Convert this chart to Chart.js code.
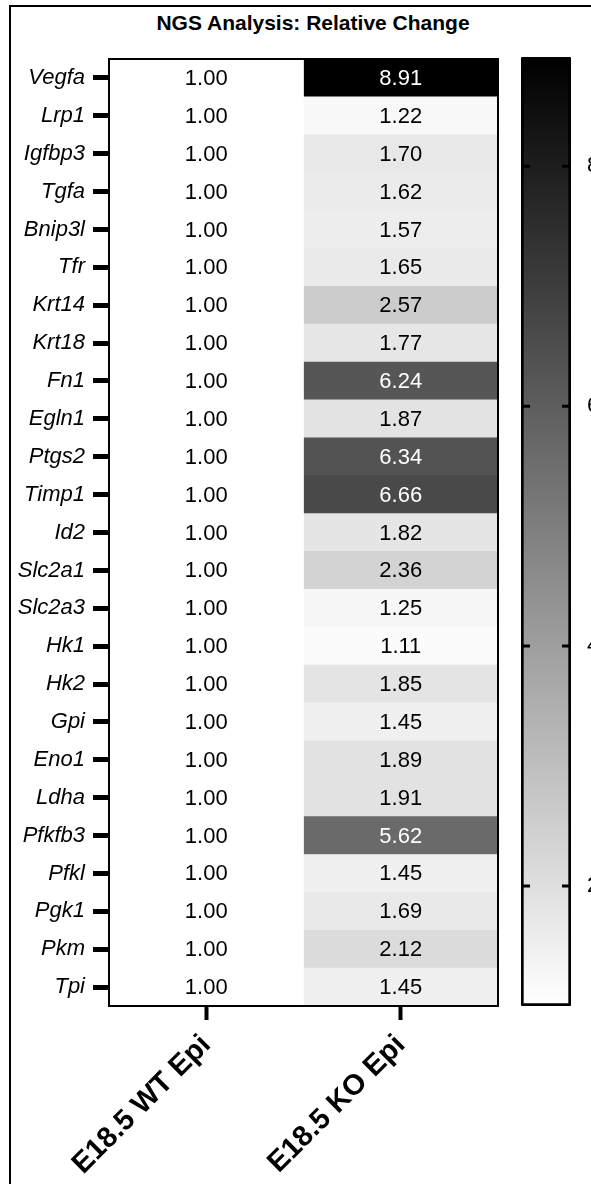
<!DOCTYPE html>
<html>
<head>
<meta charset="utf-8">
<script src="https://cdn.jsdelivr.net/npm/chart.js@4.4.1/dist/chart.umd.min.js"></script>
<style>
    html, body { margin: 0; padding: 0; background: #fff; }
    #page { position: relative; width: 591px; height: 1184px; overflow: hidden; }
    #frame { position: absolute; left: 9px; top: 5px; width: 700px; height: 1300px;
             border-left: 2px solid #000; border-top: 2px solid #000; }
    #title { position: absolute; left: 0; width: 626px; top: 11px; text-align: center;
             font: bold 21px "Liberation Sans", Arial, sans-serif; line-height: 24px; color: #000; }
    #heat { position: absolute; left: 0; top: 0; }
    #bar  { position: absolute; left: 500px; top: 0; }
</style>
</head>
<body>
<div id="page">
    <div id="frame"></div>
    <div id="title">NGS Analysis: Relative Change</div>
    <canvas id="heat" width="510" height="1184"></canvas>
    <canvas id="bar" width="200" height="1184"></canvas>
</div>
<script>
// ── Data ──
const genes = ['Vegfa', 'Lrp1', 'Igfbp3', 'Tgfa', 'Bnip3l', 'Tfr', 'Krt14', 'Krt18', 'Fn1', 'Egln1',
               'Ptgs2', 'Timp1', 'Id2', 'Slc2a1', 'Slc2a3', 'Hk1', 'Hk2', 'Gpi', 'Eno1', 'Ldha',
               'Pfkfb3', 'Pfkl', 'Pgk1', 'Pkm', 'Tpi'];
const groups   = ['E18.5 WT Epi', 'E18.5 KO Epi'];
const wtValues = [1.00, 1.00, 1.00, 1.00, 1.00, 1.00, 1.00, 1.00, 1.00, 1.00,
                  1.00, 1.00, 1.00, 1.00, 1.00, 1.00, 1.00, 1.00, 1.00, 1.00,
                  1.00, 1.00, 1.00, 1.00, 1.00];
const koValues = [8.91, 1.22, 1.70, 1.62, 1.57, 1.65, 2.57, 1.77, 6.24, 1.87,
                  6.34, 6.66, 1.82, 2.36, 1.25, 1.11, 1.85, 1.45, 1.89, 1.91,
                  5.62, 1.45, 1.69, 2.12, 1.45];
const scaleMin   = 1.00;
const scaleMax   = 8.91;
const scaleTicks = [2, 4, 6, 8];

const FONT = '"Liberation Sans", Arial, sans-serif';

// white at min → black at max
function grayFor(v) {
    const t = Math.min(1, Math.max(0, (v - scaleMin) / (scaleMax - scaleMin)));
    const g = Math.round(255 * (1 - t));
    return `rgb(${g},${g},${g})`;
}

// ── Heatmap ──
const columns = [wtValues, koValues];

const cellLabels = {
    id: 'cellLabels',
    afterDatasetsDraw(chart) {
        const ctx = chart.ctx;
        ctx.save();
        ctx.font = `22px ${FONT}`;
        ctx.textAlign = 'center';
        ctx.textBaseline = 'middle';
        chart.data.datasets.forEach((ds, di) => {
            chart.getDatasetMeta(di).data.forEach((el, i) => {
                const v = columns[di][i];
                ctx.fillStyle = v > 5 ? '#fff' : '#000';
                ctx.fillText(v.toFixed(2), (el.x + el.base) / 2, el.y + 1);
            });
        });
        ctx.restore();
    },
    afterDraw(chart) {
        const { ctx, chartArea: a } = chart;
        ctx.save();
        ctx.strokeStyle = '#000';
        ctx.lineWidth = 2;
        ctx.strokeRect(a.left, a.top, a.right - a.left, a.bottom - a.top);
        ctx.restore();
    }
};

new Chart(document.getElementById('heat'), {
    type: 'bar',
    data: {
        labels: genes,
        datasets: columns.map((vals, c) => ({
            label: groups[c],
            data: vals.map(() => [c, c + 1]),
            backgroundColor: vals.map(grayFor),
            borderWidth: 0,
            barPercentage: 1,
            categoryPercentage: 1,
            grouped: false,
        })),
    },
    options: {
        indexAxis: 'y',
        responsive: false,
        animation: false,
        devicePixelRatio: 1,
        layout: { padding: { top: 59, right: 12, left: 0, bottom: 0 } },
        plugins: { legend: { display: false }, tooltip: { enabled: false }, title: { display: false } },
        scales: {
            x: {
                type: 'linear', min: 0, max: groups.length,
                afterBuildTicks: s => { s.ticks = groups.map((g, i) => ({ value: i + 0.5 })); },
                afterFit: s => { s.height = 178; s.paddingLeft = 0; s.paddingRight = 0; },
                ticks: {
                    autoSkip: false, minRotation: 45, maxRotation: 45, padding: 8,
                    color: '#000', font: { family: FONT, size: 29, weight: 'bold' },
                    callback: v => groups[Math.floor(v)],
                },
                grid: { drawOnChartArea: false, tickLength: 14, tickWidth: 4, tickColor: '#000' },
                border: { color: '#000', width: 2 },
            },
            y: {
                type: 'category', offset: true,
                afterFit: s => { s.width = 109; s.paddingTop = 0; s.paddingBottom = 0; },
                ticks: { color: '#000', padding: 8, font: { family: FONT, size: 22, style: 'italic' } },
                grid: { offset: false, drawOnChartArea: false, tickLength: 16, tickWidth: 5, tickColor: '#000' },
                border: { color: '#000', width: 2 },
            },
        },
    },
    plugins: [cellLabels],
});

// ── Colour bar ──
const innerTicks = {
    id: 'innerTicks',
    afterDatasetsDraw(chart) {
        const { ctx, chartArea: a } = chart;
        const ys = chart.scales.y;
        ctx.save();
        ctx.strokeStyle = '#000';
        ctx.lineWidth = 3;
        ys.ticks.forEach(t => {
            const y = ys.getPixelForValue(t.value);
            ctx.beginPath();
            ctx.moveTo(a.left, y);  ctx.lineTo(a.left + 9, y);
            ctx.moveTo(a.right, y); ctx.lineTo(a.right - 9, y);
            ctx.stroke();
        });
        ctx.restore();
    }
};

new Chart(document.getElementById('bar'), {
    type: 'bar',
    data: {
        labels: [''],
        datasets: [{
            data: [[scaleMin, scaleMax]],
            backgroundColor: (c) => {
                const a = c.chart.chartArea;
                if (!a) return '#888';
                const ys = c.chart.scales.y;
                const g = c.chart.ctx.createLinearGradient(0, ys.getPixelForValue(scaleMin), 0, ys.getPixelForValue(scaleMax));
                g.addColorStop(0, grayFor(scaleMin));
                g.addColorStop(1, grayFor(scaleMax));
                return g;
            },
            borderColor: '#000',
            borderWidth: 3,
            borderSkipped: false,
            borderRadius: 2,
            barPercentage: 1,
            categoryPercentage: 1,
        }],
    },
    options: {
        responsive: false,
        animation: false,
        devicePixelRatio: 1,
        layout: { padding: { top: 57, left: 21, right: 0, bottom: 178 } },
        plugins: { legend: { display: false }, tooltip: { enabled: false } },
        scales: {
            x: { display: false },
            y: {
                position: 'right', min: scaleMin, max: scaleMax,
                afterBuildTicks: s => { s.ticks = scaleTicks.map(v => ({ value: v })); },
                afterFit: s => { s.width = 129; s.paddingTop = 0; s.paddingBottom = 0; },
                ticks: { color: '#000', padding: 16, font: { family: FONT, size: 22 } },
                grid: { display: false, drawTicks: false },
                border: { display: false },
            },
        },
    },
    plugins: [innerTicks],
});
</script>
</body>
</html>
